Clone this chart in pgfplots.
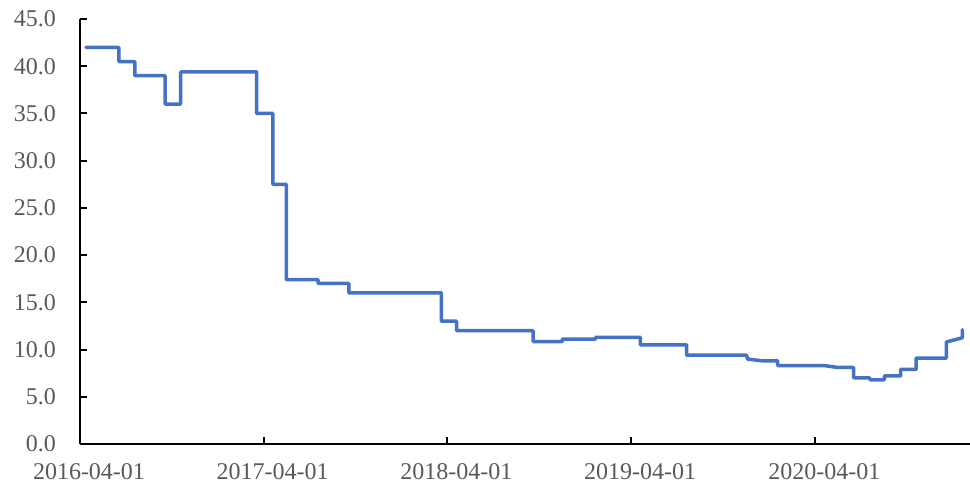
\documentclass[border=0pt]{standalone}
\usepackage{pgfplots}
\pgfplotsset{compat=1.18}
\usepackage{fontspec}
\setmainfont{Liberation Serif}
\definecolor{linec}{HTML}{4472C4}
\definecolor{labc}{HTML}{595959}
\begin{document}
\begin{tikzpicture}
\begin{axis}[
  name=ax,
  scale only axis,
  width=445pt, height=212.5pt,
  xmin=0, xmax=1768,
  ymin=0, ymax=45,
  ytick={0,5,...,45},
  xtick={0,365,730,1095,1461},
  xticklabels={2016-04-01,2017-04-01,2018-04-01,2019-04-01,2020-04-01},
  axis x line*=bottom,
  axis y line*=left,
  axis line style={black, line width=1pt},
  tick style={black, line width=1pt},
  tick align=inside,
  major tick length=3.5pt,
  tick label style={font=\fontsize{12}{14}\selectfont, text=labc},
  xticklabel style={xshift=4.5pt, yshift=-6pt},
  yticklabel style={xshift=-8.5pt},
  /pgf/number format/assume math mode=true,
  yticklabel={\pgfmathprintnumber[fixed,fixed zerofill,precision=1]{\tick}},
  scaled y ticks=false,
  clip=false,
]
\addplot[linec, line width=1.75pt, line join=round, line cap=round] coordinates {
(12,42.0) (77,42.0) (77,40.5) (109,40.5) (109,39.0) (169,39.0) (169,36.0) (200,36.0)
(200,39.4) (351,39.4) (351,35.0) (383,35.0) (383,27.5) (410,27.5) (410,17.4) (473,17.4)
(473,17.0) (534,17.0) (534,16.0) (718,16.0) (718,13.0) (748,13.0) (748,12.0) (900,12.0)
(900,10.85) (958,10.85) (958,11.1) (1024,11.1) (1024,11.3) (1113,11.3) (1113,10.5)
(1205,10.5) (1205,9.4) (1324,9.4) (1326,9.0) (1356,8.8) (1386,8.8) (1386,8.3)
(1479,8.3) (1505,8.1) (1537,8.1) (1537,7.0) (1569,7.0) (1569,6.8) (1598,6.8)
(1598,7.2) (1630,7.2) (1630,7.9) (1661,7.9) (1661,9.1) (1721,9.1) (1721,10.8)
(1753,11.25) (1753,12.1)
};
\end{axis}
\pgfresetboundingbox
\path ([xshift=-40pt,yshift=-21pt]ax.south west) rectangle ([yshift=9.5pt]ax.north east);
\end{tikzpicture}
\end{document}
